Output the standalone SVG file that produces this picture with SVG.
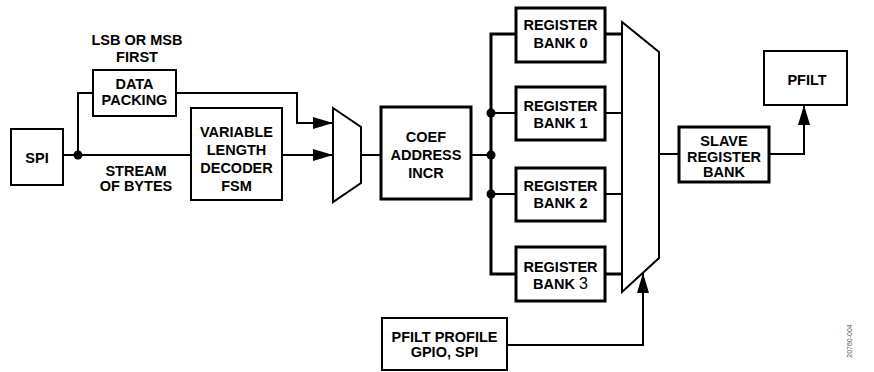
<svg xmlns="http://www.w3.org/2000/svg" width="874" height="372" viewBox="0 0 874 372">
<defs>
<marker id="arr" markerUnits="userSpaceOnUse" markerWidth="20" markerHeight="12" refX="20" refY="6" orient="auto">
<path d="M0,0 L20,6 L0,12 z" fill="#000"/>
</marker>
<style>
.box{fill:#fff;stroke:#000;stroke-width:2}
.tk{fill:#fff;stroke:#000;stroke-width:3}
.mux{fill:#fff;stroke:#000;stroke-width:2;stroke-linejoin:miter}
.ln{fill:none;stroke:#000;stroke-width:2}
.lt{fill:none;stroke:#000;stroke-width:3}
.dot{fill:#000}
text{font-family:"Liberation Sans",Arial,sans-serif;font-weight:bold;font-size:14.5px;fill:#000;text-anchor:middle}
.id{font-size:7px;font-weight:normal;fill:#555}
</style>
</defs>
<rect width="874" height="372" fill="#fff"/>
<g id="connectors">
<path class="ln" d="M63,155 H191"/>
<path class="ln" d="M78,155 V93 H93"/>
<path class="ln" d="M176,93 H297 V123 H333" marker-end="url(#arr)"/>
<path class="ln" d="M282,155 H333" marker-end="url(#arr)"/>
<path class="ln" d="M361,155 H381"/>
<path class="ln" d="M471,155 H491"/>
<path class="lt" d="M516,34 H491 V274 H516"/>
<path class="ln" d="M491,113 H516"/>
<path class="ln" d="M491,194 H516"/>
<path class="lt" d="M605,34 H622"/>
<path class="ln" d="M605,113 H622"/>
<path class="ln" d="M605,194 H622"/>
<path class="lt" d="M605,274 H622"/>
<path class="ln" d="M659,154 H679"/>
<path class="ln" d="M769,154 H804 V105" marker-end="url(#arr)"/>
<path class="ln" d="M507,345 H643 V273" marker-end="url(#arr)"/>
<circle class="dot" cx="78" cy="155" r="4.5"/>
<circle class="dot" cx="491" cy="113" r="4.5"/>
<circle class="dot" cx="491" cy="155" r="4.5"/>
<circle class="dot" cx="491" cy="194" r="4.5"/>
</g>
<g id="spi"><rect class="box" x="11" y="129" width="52" height="56"/><text x="37" y="163">SPI</text></g>
<g id="lsb-label"><text x="137" y="45">LSB OR MSB</text><text x="137" y="62">FIRST</text></g>
<g id="data-packing"><rect class="box" x="93" y="70" width="83" height="46"/><text x="134.5" y="89">DATA</text><text x="134.5" y="105">PACKING</text></g>
<g id="stream-label"><text x="136" y="176">STREAM</text><text x="136" y="191">OF BYTES</text></g>
<g id="vld"><rect class="box" x="191" y="108" width="91" height="92" stroke-width="2.5"/><text x="236.5" y="137">VARIABLE</text><text x="236.5" y="155">LENGTH</text><text x="236.5" y="173">DECODER</text><text x="236.5" y="191">FSM</text></g>
<g id="mux1"><polygon class="mux" points="333,108 361,127 361,183 333,202"/></g>
<g id="coef"><rect class="tk" x="381" y="107" width="90" height="92"/><text x="426" y="142">COEF</text><text x="426" y="160">ADDRESS</text><text x="426" y="178">INCR</text></g>
<g id="bank0"><rect class="tk" x="516" y="8" width="89" height="54"/><text x="560.5" y="30">REGISTER</text><text x="560.5" y="48">BANK 0</text></g>
<g id="bank1"><rect class="tk" x="516" y="87" width="89" height="53"/><text x="560.5" y="111">REGISTER</text><text x="560.5" y="128">BANK 1</text></g>
<g id="bank2"><rect class="tk" x="516" y="168" width="89" height="53"/><text x="560.5" y="191">REGISTER</text><text x="560.5" y="208">BANK 2</text></g>
<g id="bank3"><rect class="tk" x="516" y="247" width="89" height="54"/><text x="560.5" y="272">REGISTER</text><text x="560.5" y="289">BANK <tspan font-weight="normal" font-size="16">3</tspan></text></g>
<g id="mux2"><polygon class="mux" points="622,22 659,52 659,258 622,292"/></g>
<g id="slave"><rect class="tk" x="679" y="127" width="90" height="55"/><text x="724" y="146">SLAVE</text><text x="724" y="162">REGISTER</text><text x="724" y="177">BANK</text></g>
<g id="pfilt"><rect class="box" x="764" y="51" width="83" height="54"/><text x="807" y="85">PFILT</text></g>
<g id="pfilt-profile"><rect class="box" x="382" y="318" width="125" height="52" stroke-width="2.5"/><text x="444.5" y="342">PFILT PROFILE</text><text x="444.5" y="357">GPIO, SPI</text></g>
<text class="id" transform="translate(852,341) rotate(-90)">20760-004</text>
</svg>
